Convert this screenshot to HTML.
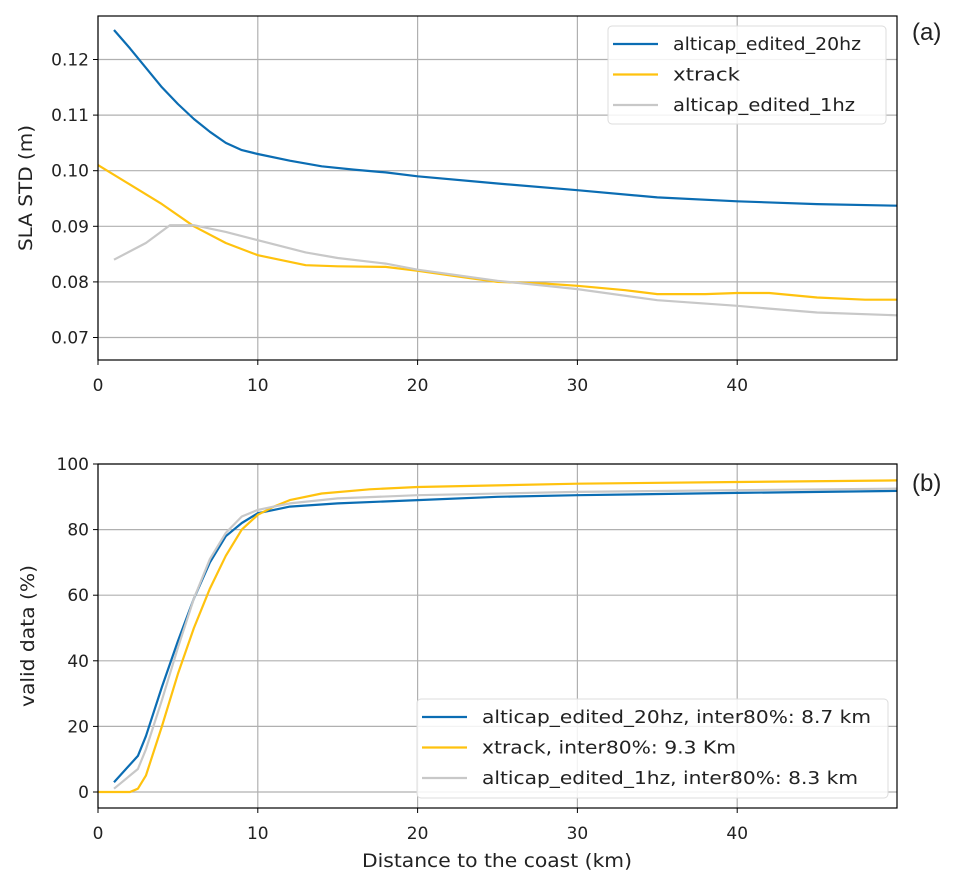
<!DOCTYPE html>
<html><head><meta charset="utf-8"><style>
body{margin:0;background:#fff;}
svg text{font-family:"DejaVu Sans","Liberation Sans",sans-serif;fill:#222;}
</style></head><body>
<svg id="c" width="955" height="883" xmlns="http://www.w3.org/2000/svg"></svg>
<script>
const xTicks=[0,10,20,30,40];
const aYTicks=[0.07,0.08,0.09,0.10,0.11,0.12];
const aYLabels=["0.07","0.08","0.09","0.10","0.11","0.12"];
const bYTicks=[0,20,40,60,80,100];
const aBlueX=[1,2,3,4,5,6,7,8,9,10,12,14,16,18,20,25,30,35,40,45,50];
const aBlueY=[0.1253,0.1220,0.1185,0.1150,0.1120,0.1093,0.1070,0.1050,0.1037,0.1030,0.1018,0.1008,0.1002,0.0997,0.0990,0.0977,0.0965,0.0952,0.0945,0.0940,0.0937];
const aOrX=[0,2,4,6,8,10,13,15,18,20,23,25,28,30,33,35,38,40,42,45,48,50];
const aOrY=[0.1010,0.0975,0.0940,0.0900,0.0870,0.0848,0.0830,0.0828,0.0827,0.0820,0.0808,0.0800,0.0797,0.0793,0.0785,0.0778,0.0778,0.0780,0.0780,0.0772,0.0768,0.0768];
const aGrX=[1,3,4.5,6,8,10,13,15,18,20,25,30,35,40,42,45,50];
const aGrY=[0.0840,0.0870,0.0902,0.0902,0.0890,0.0875,0.0853,0.0843,0.0833,0.0822,0.0802,0.0787,0.0767,0.0757,0.0752,0.0745,0.0740];
const bBlueX=[1,2.5,3,4,5,6,7,8,9,10,11,12,15,20,25,30,40,50];
const bBlueY=[3,11,17,32,46,59,70,78,82,85,86,87,88,89,90,90.5,91.2,91.8];
const bOrX=[0,2,2.5,3,4,5,6,7,8,9,10,11,12,14,17,20,30,40,50];
const bOrY=[0,0,1,5,20,36,50,62,72,80,84.5,87,89,91,92.3,93,94,94.5,95];
const bGrX=[1,2.5,3,4,5,6,7,8,9,10,11,12,15,20,30,40,50];
const bGrY=[1,7,13,28,44,59,71,79,84,86,87,88,89.5,90.5,91.5,92,92.5];

const svg=document.getElementById('c');const NS='http://www.w3.org/2000/svg';
function mk(t,a,p){const e=document.createElementNS(NS,t);for(const k in a)e.setAttribute(k,a[k]);(p||svg).appendChild(e);return e;}
const L=98,R=897;
const sx=v=>L+(v-0)/50*(R-L);
const aY=v=>170.7+(0.10-v)*5560;
const bY=v=>792-v*3.28;
const BLUE='#0b6db3',OR='#ffc20e',GR='#c8c8c8';

function panel(name,top,bot,yt,yl,ys,xlabels){
  const g=mk('g',{});
  
  
  xTicks.forEach(t=>{const l=mk('line',{x1:sx(t),x2:sx(t),y1:top,y2:bot,stroke:'#b0b0b0','stroke-width':1.2},g);
    
    mk('line',{x1:sx(t),x2:sx(t),y1:bot,y2:bot+5,stroke:'#000','stroke-width':1},g);
    if(xlabels){const tx=mk('text',{x:sx(t),y:bot+31,'text-anchor':'middle','font-size':17},g);tx.textContent=t;
      }});
  yt.forEach((t,i)=>{const y=ys(t);const l=mk('line',{x1:L,x2:R,y1:y,y2:y,stroke:'#b0b0b0','stroke-width':1.2},g);
    
    mk('line',{x1:L-5,x2:L,y1:y,y2:y,stroke:'#000','stroke-width':1},g);
    const tx=mk('text',{x:L-9,y:y+6,'text-anchor':'end','font-size':17},g);tx.textContent=yl[i];
    });
  return g;
}
function series(name,xs,ys,fx,fy,col,g){
  const d=xs.map((x,i)=>(i?'L':'M')+sx(x).toFixed(1)+','+fy(ys[i]).toFixed(1)).join(' ');
  const p=mk('path',{d:d,fill:'none',stroke:col,'stroke-width':2.2,'stroke-linejoin':'round'},g);
  
}
function frame(top,bot){mk('rect',{x:L,y:top,width:R-L,height:bot-top,fill:'none',stroke:'#000','stroke-width':1.2});}
function legend(name,x,y,w,h,items,fs){
  const g=mk('g',{});
  
  mk('rect',{x:x,y:y,width:w,height:h,rx:4,fill:'rgba(255,255,255,0.85)',stroke:'#dcdcdc'},g);
  items.forEach((it,i)=>{const yy=y+18+i*30.5;
    mk('line',{x1:x+5,x2:x+50,y1:yy,y2:yy,stroke:it[1],'stroke-width':2.2},g);
    const t=mk('text',{x:x+65,y:yy+6,'font-size':fs,textLength:it[2],lengthAdjust:'spacingAndGlyphs'},g);t.textContent=it[0];
    });
}
const ga=panel('panel-a',16,360,aYTicks,aYLabels,aY,true);
series('series-20hz-std',aBlueX,aBlueY,sx,aY,BLUE,ga);
series('series-xtrack-std',aOrX,aOrY,sx,aY,OR,ga);
series('series-1hz-std',aGrX,aGrY,sx,aY,GR,ga);
frame(16,360);
legend('legend-a',608,26,278,98,[['alticap_edited_20hz',BLUE,188],['xtrack',OR,67],['alticap_edited_1hz',GR,182]],18);
let t=mk('text',{x:0,y:0,'font-size':19,'text-anchor':'middle',textLength:126,lengthAdjust:'spacingAndGlyphs',transform:'translate(32,188) rotate(-90)'});t.textContent='SLA STD (m)';

t=mk('text',{x:912,y:40,'font-size':24,style:'font-family:Liberation Sans,sans-serif'});t.textContent='(a)';

const gb=panel('panel-b',464,808,bYTicks,bYTicks.map(String),bY,true);
series('series-20hz-valid',bBlueX,bBlueY,sx,bY,BLUE,gb);
series('series-xtrack-valid',bOrX,bOrY,sx,bY,OR,gb);
series('series-1hz-valid',bGrX,bGrY,sx,bY,GR,gb);
frame(464,808);
legend('legend-b',417,699,471,99,[['alticap_edited_20hz, inter80%: 8.7 km',BLUE,389],['xtrack, inter80%: 9.3 Km',OR,254],['alticap_edited_1hz, inter80%: 8.3 km',GR,376]],18);
t=mk('text',{x:0,y:0,'font-size':19,'text-anchor':'middle',textLength:142,lengthAdjust:'spacingAndGlyphs',transform:'translate(34,636) rotate(-90)'});t.textContent='valid data (%)';

t=mk('text',{x:362,y:867,'font-size':19,textLength:270,lengthAdjust:'spacingAndGlyphs'});t.textContent='Distance to the coast (km)';

t=mk('text',{x:912,y:491,'font-size':24,style:'font-family:Liberation Sans,sans-serif'});t.textContent='(b)';

</script>
</body></html>
